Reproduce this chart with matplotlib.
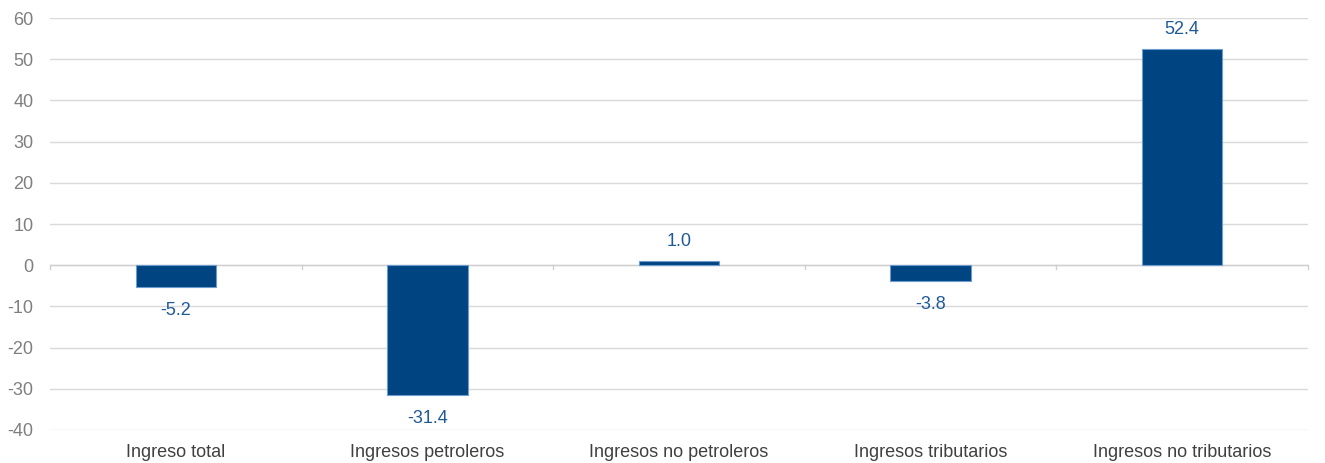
import matplotlib.pyplot as plt
import numpy as np

plt.rcParams['font.family'] = ['Liberation Sans', 'DejaVu Sans']

categorias = ["Ingreso total", "Ingresos petroleros", "Ingresos no petroleros",
              "Ingresos tributarios", "Ingresos no tributarios"]
valores = [-5.2, -31.4, 1.0, -3.8, 52.4]
yticks = [-40, -30, -20, -10, 0, 10, 20, 30, 40, 50, 60]

fig = plt.figure(figsize=(13.25, 4.63), dpi=100)
ax = fig.add_axes([0.0377, 0.0713, 0.9495, 0.8897])

x = np.arange(len(categorias))
ax.bar(x, valores, width=0.32, color='#004481', edgecolor='#6b9bcf', linewidth=0.8, zorder=3)

for xi, v in zip(x, valores):
    if v >= 0:
        ax.annotate(f"{v:.1f}", (xi, v), xytext=(0, 8), textcoords='offset points',
                    ha='center', va='bottom', color='#1f5a96', fontsize=13)
    else:
        ax.annotate(f"{v:.1f}", (xi, v), xytext=(0, -11), textcoords='offset points',
                    ha='center', va='top', color='#1f5a96', fontsize=13)

ax.set_xlim(-0.5, len(categorias) - 0.5)
ax.set_ylim(-40, 60)
ax.set_yticks(yticks)
ax.set_yticklabels([str(t) for t in yticks], color='#7f7f7f', fontsize=13)
ax.grid(axis='y', color='#d9d9d9', linewidth=1, zorder=0)
ax.tick_params(axis='y', length=0, pad=12)

ax.set_xticks(x)
ax.set_xticklabels(categorias, fontsize=13, color='#404040')
ax.tick_params(axis='x', length=0, pad=10)
for spine in ax.spines.values():
    spine.set_visible(False)

# linea del cero con marcas entre categorias
ax.axhline(0, color='#d0d0d0', linewidth=1, zorder=2)
for b in np.arange(-0.5, len(categorias), 1.0):
    ax.plot([b, b], [0, -1.0], color='#d0d0d0', linewidth=1, zorder=2, clip_on=False)

fig.savefig('out.png', dpi=100)
